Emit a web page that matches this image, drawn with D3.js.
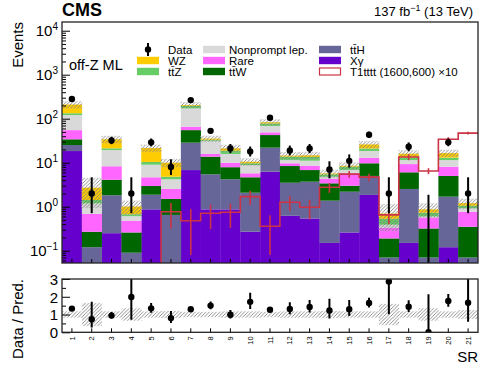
<!DOCTYPE html>
<html>
<head>
<meta charset="utf-8">
<script src="https://cdn.jsdelivr.net/npm/d3@7"></script>
<style>
  body { margin: 0; background: #fff; }
  text { font-family: "Liberation Sans", Arial, sans-serif; fill: #000; }
</style>
</head>
<body>
<div id="chart"></div>
<script>
// ---- data ----
const srLabels = ["1","2","3","4","5","6","7","8","9","10","11","12","13","14","15","16","17","18","19","20","21"];

const xgamma    = [18.4, 0.02, 0.25, 0.02, 0.87, 0.03, 6.8, 0.87, 0.87, 0.27, 6.25, 0.62, 0.54, 0.15, 0.26, 1.85, 0.02, 0.15, 0.01, 0.12, 0.01];
const tth       = [6.8, 0.10, 1.57, 0.07, 1.0, 0.62, 21.7, 4.58, 3.33, 1.81, 15.75, 2.88, 3.16, 1.22, 1.93, 3.15, 0.05, 2.38, 0.06, 1.57, 0.06];
const ttw       = [8.8, 0.15, 2.28, 0.17, 1.08, 0.85, 26.5, 8.25, 3.7, 2.58, 20.5, 4.9, 3.1, 2.03, 0.81, 4.7, 0.12, 3.52, 0.25, 3.31, 0.28];
const rare      = [21, 0.42, 4.2, 0.22, 1.71, 1.03, 10.8, 2.1, 2.1, 1.08, 6.5, 1.3, 1.7, 0.86, 2.74, 3.3, 0.14, 3.25, 0.25, 3.1, 0.42];
const nonprompt = [66, 0.5, 11.1, 0.13, 4.34, 1.67, 106, 15.8, 5.8, 3.11, 19, 1.8, 2.6, 0.54, 1.06, 5.5, 0.06, 2.2, 0.03, 3.4, 0.15];
const ttz       = [12, 0.23, 1.8, 0.065, 1.4, 0.6, 25, 1.7, 2.9, 0.85, 10, 2.2, 2.4, 0.65, 1.3, 2.5, 0.14, 1.5, 0.13, 1.5, 0.13];
const wz        = [77, 1.28, 12.8, 0.33, 11.1, 5.2, 8, 2, 2.5, 0.8, 5, 0.8, 1.2, 0.25, 0.4, 5, 0.17, 3, 0.14, 3.5, 0.15];

const observed  = [280, 2, 32, 2, 29, 8, 265, 53, 21, 18, 105, 19, 21, 7, 11, 43, 2, 23, 0, 29, 2];
const relUnc    = [0.18, 0.65, 0.18, 0.35, 0.18, 0.2, 0.15, 0.15, 0.18, 0.18, 0.15, 0.18, 0.18, 0.2, 0.18, 0.18, 0.6, 0.18, 0.35, 0.18, 0.25];

// T1tttt (1600,600) x10
const signal    = [0, 0, 0, 0, 0, 0.77, 0.48, 0.71, 0.75, 1.69, 0.36, 1.26, 0.97, 2.76, 5.5, 4.7, 0.65, 13.5, 6.5, 34, 47];
const signalErr = [0, 0, 0, 0, 0, 0.45, 0.4, 0.4, 0.42, 0.6, 0.28, 0.46, 0.46, 0.7, 0.95, 0.9, 0.25, 2.1, 1.0, 3.9, 3.5];

const procKeys   = ["xgamma", "tth", "ttw", "rare", "nonprompt", "ttz", "wz"];
const procColors = {xgamma: "#6600cc", tth: "#666699", ttw: "#006600", rare: "#ff66ff",
                    nonprompt: "#d9d9d9", ttz: "#66cc66", wz: "#ffcc00"};
const sigColor = "#cc3344";

// ---- build table ----
const table = srLabels.map((s, i) => ({
    sr: s, xgamma: xgamma[i], tth: tth[i], ttw: ttw[i], rare: rare[i],
    nonprompt: nonprompt[i], ttz: ttz[i], wz: wz[i]
}));
const totals = table.map(d => procKeys.reduce((a, k) => a + d[k], 0));

// poisson intervals (Gehrels approx.)
function poisUp(n){ return n + 1 + Math.sqrt(n + 0.75); }
function poisLow(n){ return n === 0 ? 0 : n * Math.pow(1 - 1/(9*n) - 1/(3*Math.sqrt(n)), 3); }

// ---- svg ----
const W = 498, H = 374;
const svg = d3.select("#chart").append("svg").attr("width", W).attr("height", H);

const defs = svg.append("defs");
const pat = defs.append("pattern").attr("id", "hatch")
    .attr("patternUnits", "userSpaceOnUse").attr("width", 3.5).attr("height", 3.5);
pat.append("path").attr("d", "M-1,1 L1,-1 M0,3.5 L3.5,0 M2.5,4.5 L4.5,2.5")
    .attr("stroke", "#777").attr("stroke-width", 0.8);

const left = 62, right = 478;
const mTop = 22, mBot = 263;
const rTop = 279, rBot = 332.3;

defs.append("clipPath").attr("id", "clipMain").append("rect")
    .attr("x", left).attr("y", mTop).attr("width", right - left).attr("height", mBot - mTop);
defs.append("clipPath").attr("id", "clipRatio").append("rect")
    .attr("x", left).attr("y", rTop).attr("width", right - left).attr("height", rBot - rTop);

// scales
const x = d3.scaleBand().domain(srLabels).range([left, right]).padding(0);
const y = d3.scaleLog().domain([0.0525, 15770]).range([mBot, mTop]).clamp(true);
const yr = d3.scaleLinear().domain([0, 3]).range([rBot, rTop]).clamp(true);
const cx = s => x(s) + x.bandwidth() / 2;

// =========================
// MAIN PANEL
// =========================
const main = svg.append("g").attr("clip-path", "url(#clipMain)");

const stack = d3.stack().keys(procKeys)(table);
main.selectAll("g.layer").data(stack).enter().append("g")
    .attr("class", "layer")
    .attr("fill", d => procColors[d.key])
    .selectAll("rect").data(d => d).enter().append("rect")
    .attr("x", d => x(d.data.sr))
    .attr("width", x.bandwidth() + 0.3)
    .attr("y", d => y(d[1]))
    .attr("height", d => Math.max(0, y(d[0] > 0 ? d[0] : 0.0525) - y(d[1])));

// uncertainty hatch
main.selectAll("rect.unc").data(srLabels).enter().append("rect")
    .attr("class", "unc")
    .attr("x", d => x(d))
    .attr("width", x.bandwidth())
    .attr("y", (d, i) => y(totals[i] * (1 + relUnc[i])))
    .attr("height", (d, i) => y(totals[i] * (1 - relUnc[i])) - y(totals[i] * (1 + relUnc[i])))
    .attr("fill", "url(#hatch)")
    .attr("stroke", "#bbb").attr("stroke-width", 0.6).attr("stroke-dasharray", "1,1.5");

// signal step line
const first = signal.findIndex(v => v > 0);
const sigPts = [[x(srLabels[first]), mBot + 2]];
for (let i = first; i < srLabels.length; i++) {
    sigPts.push([x(srLabels[i]), y(signal[i])]);
}
sigPts.push([right, y(signal[srLabels.length - 1])]);
main.append("path")
    .attr("d", d3.line().curve(d3.curveStepAfter)(sigPts))
    .attr("fill", "none").attr("stroke", sigColor).attr("stroke-width", 1.6);

main.selectAll("line.sigerr").data(srLabels.filter((s, i) => signal[i] > 0)).enter().append("line")
    .attr("class", "sigerr")
    .attr("x1", d => cx(d)).attr("x2", d => cx(d))
    .attr("y1", d => { const i = srLabels.indexOf(d); return y(signal[i] + signalErr[i]); })
    .attr("y2", d => { const i = srLabels.indexOf(d); return y(Math.max(signal[i] - signalErr[i], 0.001)); })
    .attr("stroke", sigColor).attr("stroke-width", 1.6);

// data
main.selectAll("line.derr").data(srLabels).enter().append("line")
    .attr("class", "derr")
    .attr("x1", d => cx(d)).attr("x2", d => cx(d))
    .attr("y1", (d, i) => y(poisUp(observed[i])))
    .attr("y2", (d, i) => y(Math.max(poisLow(observed[i]), 0.001)))
    .attr("stroke", "#000").attr("stroke-width", 2);
main.selectAll("circle.dat").data(srLabels.filter((s, i) => observed[i] > 0)).enter().append("circle")
    .attr("class", "dat")
    .attr("cx", d => cx(d))
    .attr("cy", d => y(observed[srLabels.indexOf(d)]))
    .attr("r", 3.2).attr("fill", "#000");

// axes main
const decades = [0.1, 1, 10, 100, 1000, 10000];
const minors = [];
[0.01, 0.1, 1, 10, 100, 1000, 10000].forEach(dd => {
    for (let k = 2; k <= 9; k++) { const v = dd * k; if (v > 0.0525 && v < 15770) minors.push(v); }
});
const yAxis = svg.append("g").attr("transform", `translate(${left},0)`)
    .call(d3.axisLeft(y).tickValues(decades).tickSize(-8).tickPadding(4).tickFormat(""));
svg.append("g").attr("transform", `translate(${left},0)`)
    .call(d3.axisLeft(y).tickValues(minors).tickSize(-4).tickFormat(""))
    .call(g => g.select(".domain").remove());
yAxis.select(".domain").remove();
yAxis.selectAll(".tick line").attr("stroke", "#000");
yAxis.selectAll(".tick").each(function(d) {
    const e = Math.round(Math.log10(d));
    const t = d3.select(this).append("text")
        .attr("x", -4).attr("y", 5).attr("text-anchor", "end")
        .style("font-size", "15px");
    t.append("tspan").text("10");
    t.append("tspan").attr("dy", -6).style("font-size", "10px").text(e < 0 ? "\u2212" + (-e) : e);
});

svg.append("g").attr("transform", `translate(0,${mBot})`)
    .call(d3.axisBottom(x).tickSize(-4).tickFormat(""))
    .call(g => g.select(".domain").remove());

svg.append("rect").attr("x", left).attr("y", mTop).attr("width", right - left).attr("height", mBot - mTop)
    .attr("fill", "none").attr("stroke", "#222").attr("stroke-width", 1.3);

// =========================
// RATIO PANEL
// =========================
const ratio = svg.append("g").attr("clip-path", "url(#clipRatio)");

ratio.selectAll("rect.runc").data(srLabels).enter().append("rect")
    .attr("class", "runc")
    .attr("x", d => x(d)).attr("width", x.bandwidth() + 0.3)
    .attr("y", (d, i) => yr(1 + relUnc[i]))
    .attr("height", (d, i) => yr(1 - relUnc[i]) - yr(1 + relUnc[i]))
    .attr("fill", "url(#hatch)");

ratio.selectAll("line.rerr").data(srLabels).enter().append("line")
    .attr("class", "rerr")
    .attr("x1", d => cx(d)).attr("x2", d => cx(d))
    .attr("y1", (d, i) => yr(poisUp(observed[i]) / totals[i]))
    .attr("y2", (d, i) => yr(poisLow(observed[i]) / totals[i]))
    .attr("stroke", "#000").attr("stroke-width", 2);
ratio.selectAll("circle.rdat").data(srLabels).enter().append("circle")
    .attr("class", "rdat")
    .attr("cx", d => cx(d))
    .attr("cy", (d, i) => yr(observed[i] / totals[i]))
    .attr("r", 3.2).attr("fill", "#000");

const ryAxis = svg.append("g").attr("transform", `translate(${left},0)`)
    .call(d3.axisLeft(yr).tickValues([0, 1, 2, 3]).tickSize(-8).tickPadding(4).tickFormat(d3.format("d")));
ryAxis.select(".domain").remove();
ryAxis.selectAll("text").style("font-size", "15px").attr("dy", "0.36em");
svg.append("g").attr("transform", `translate(${left},0)`)
    .call(d3.axisLeft(yr).tickValues(d3.range(0.5, 3, 0.5).filter(v => v % 1 !== 0)).tickSize(-4).tickFormat(""))
    .call(g => g.select(".domain").remove());

const rxAxis = svg.append("g").attr("transform", `translate(0,${rBot})`)
    .call(d3.axisBottom(x).tickSize(-4).tickPadding(0));
rxAxis.select(".domain").remove();
rxAxis.selectAll("text")
    .style("font-size", "7.5px")
    .attr("text-anchor", "end")
    .attr("dy", "0.35em")
    .attr("transform", "translate(0,4) rotate(-90)")
    .attr("x", 0).attr("y", 0);

svg.append("rect").attr("x", left).attr("y", rTop).attr("width", right - left).attr("height", rBot - rTop)
    .attr("fill", "none").attr("stroke", "#222").attr("stroke-width", 1.3);

// =========================
// TEXT
// =========================
svg.append("text").attr("x", 62).attr("y", 16).style("font-size", "18px").style("font-weight", "bold").text("CMS");

const lumi = svg.append("text").attr("x", 473).attr("y", 16).attr("text-anchor", "end").style("font-size", "13px");
lumi.append("tspan").text("137 fb");
lumi.append("tspan").attr("dy", -5).style("font-size", "9px").text("\u22121");
lumi.append("tspan").attr("dy", 5).text(" (13 TeV)");

svg.append("text").attr("transform", "translate(23,22) rotate(-90)")
    .attr("text-anchor", "end").style("font-size", "15px").text("Events");
svg.append("text").attr("transform", "translate(23,279) rotate(-90)")
    .attr("text-anchor", "end").style("font-size", "15px").text("Data / Pred.");
svg.append("text").attr("x", 478).attr("y", 362).attr("text-anchor", "end")
    .style("font-size", "15px").text("SR");

svg.append("text").attr("x", 69).attr("y", 70).style("font-size", "14.5px").text("off-Z ML");

// =========================
// LEGEND
// =========================
const rows = [49.5, 60.5, 71.5];
const legendItems = [
    {label: "Data", col: 0, row: 0, type: "data"},
    {label: "WZ", col: 0, row: 1, key: "wz"},
    {label: "tt\u0304Z", col: 0, row: 2, key: "ttz"},
    {label: "Nonprompt lep.", col: 1, row: 0, key: "nonprompt"},
    {label: "Rare", col: 1, row: 1, key: "rare"},
    {label: "tt\u0304W", col: 1, row: 2, key: "ttw"},
    {label: "tt\u0304H", col: 2, row: 0, key: "tth"},
    {label: "X\u03b3", col: 2, row: 1, key: "xgamma"},
    {label: "T1tttt (1600,600) \u00d710", col: 2, row: 2, type: "sig"}
];
const colBox = [137, 203, 319];
const colText = [168, 229, 350];

const leg = svg.append("g");
legendItems.forEach(it => {
    const yy = rows[it.row];
    const bx = colBox[it.col];
    if (it.type === "data") {
        leg.append("line").attr("x1", bx + 11).attr("x2", bx + 11).attr("y1", yy - 6.5).attr("y2", yy + 6.5)
            .attr("stroke", "#000").attr("stroke-width", 2);
        leg.append("circle").attr("cx", bx + 11).attr("cy", yy).attr("r", 3.2).attr("fill", "#000");
    } else if (it.type === "sig") {
        leg.append("rect").attr("x", bx + 0.5).attr("y", yy - 3.5).attr("width", 21).attr("height", 7)
            .attr("fill", "#fff").attr("stroke", sigColor).attr("stroke-width", 1.2);
    } else {
        leg.append("rect").attr("x", bx).attr("y", yy - 3.7).attr("width", 22).attr("height", 7.4)
            .attr("fill", procColors[it.key]);
    }
    leg.append("text").attr("x", colText[it.col]).attr("y", yy + 4)
        .style("font-size", "11.5px").text(it.label);
});
</script>
</body>
</html>
